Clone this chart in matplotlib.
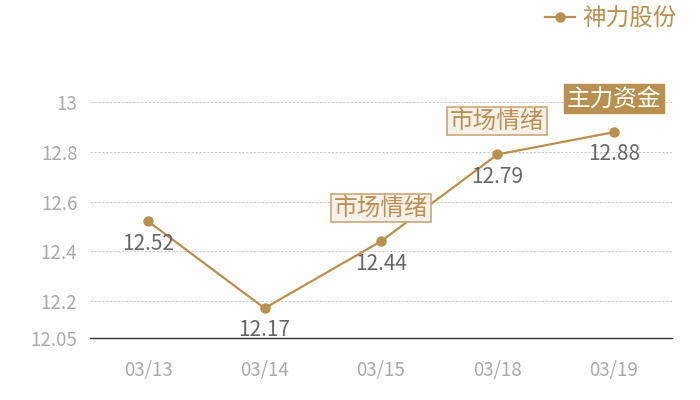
import matplotlib.pyplot as plt

plt.rcParams['font.family'] = ['Noto Sans CJK SC', 'DejaVu Sans']

# data
dates = ['03/13', '03/14', '03/15', '03/18', '03/19']
prices = [12.52, 12.17, 12.44, 12.79, 12.88]
yticks = [12.05, 12.2, 12.4, 12.6, 12.8, 13]
ytick_labels = ['12.05', '12.2', '12.4', '12.6', '12.8', '13']
# markers: (index, text, filled?)
marks = [(2, '市场情绪', False), (3, '市场情绪', False), (4, '主力资金', True)]

gold = '#b8904f'

fig = plt.figure(figsize=(7, 4), dpi=100)
ax_h = 338 - 52.8
ax = fig.add_axes([90/700, 1 - 338/400, 582/700, ax_h/400])

x = list(range(len(dates)))
ax.plot(x, prices, color=gold, lw=1.6, marker='o', ms=6.5, label='神力股份', zorder=3)

ax.set_xlim(-0.5, len(dates) - 0.5)
ax.set_ylim(12.05, 13.2)
ax.set_yticks(yticks)
ax.set_yticklabels(ytick_labels)
ax.set_xticks(x)
ax.set_xticklabels(dates)
ax.tick_params(axis='both', length=0, colors='#aaaaaa', labelsize=13.5)
ax.tick_params(axis='y', pad=9)
ax.tick_params(axis='x', pad=16)

for v in yticks[1:]:
    ax.axhline(v, color='#cccccc', lw=0.7, ls=(0, (2.5, 1.5)), zorder=1)

for s in ['top', 'right', 'left']:
    ax.spines[s].set_visible(False)
ax.spines['bottom'].set_color('#333333')
ax.spines['bottom'].set_linewidth(1)

# value labels
for i, v in enumerate(prices):
    ax.annotate(str(v), (i, v), xytext=(0, -16), textcoords='offset points',
                ha='center', va='center', fontsize=15, color='#666666', zorder=4)

# mark labels
for i, txt, filled in marks:
    if filled:
        box = dict(boxstyle='square,pad=0.12', fc=gold, ec=gold, lw=1)
        tc = 'white'
    else:
        box = dict(boxstyle='square,pad=0.12', fc='#f5f0ea', ec='#c8a878', lw=1.2)
        tc = gold
    ax.annotate(txt, (i, prices[i]), xytext=(0, 24), textcoords='offset points',
                ha='center', va='center', fontsize=17, color=tc, bbox=box, zorder=5)

leg = ax.legend(loc='upper right', bbox_to_anchor=((677 - 90)/582, (338 - 7)/ax_h),
                frameon=False, fontsize=17, handlelength=1.3, handletextpad=0.3,
                borderaxespad=0, borderpad=0)
for t in leg.get_texts():
    t.set_color(gold)

fig.savefig('out.png', dpi=100)
